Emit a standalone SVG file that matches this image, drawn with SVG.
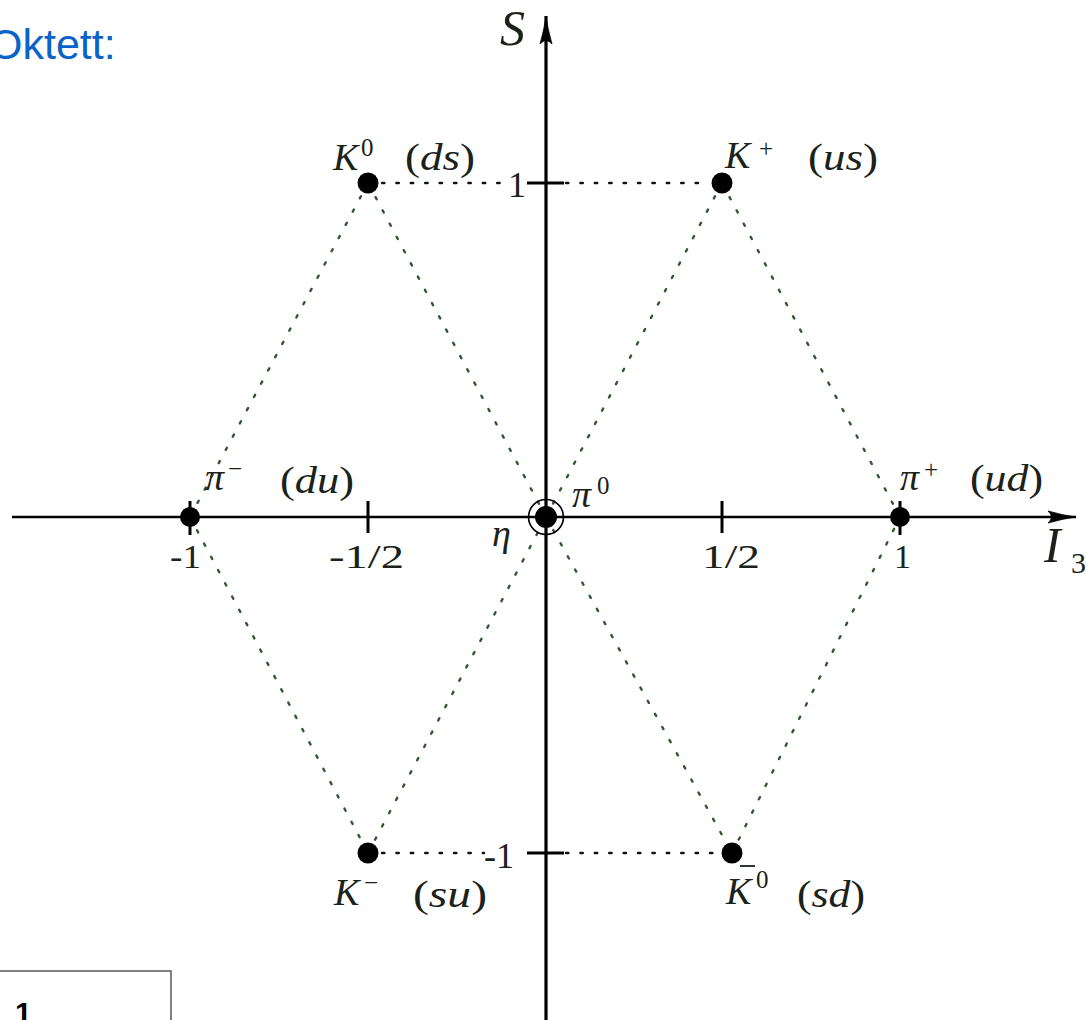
<svg xmlns="http://www.w3.org/2000/svg" width="1086" height="1020" viewBox="0 0 1086 1020">
<style>
.m{font-family:"Liberation Serif","DejaVu Serif",serif;font-style:italic;fill:#1a221a}
.u{font-family:"Liberation Serif","DejaVu Serif",serif;font-style:normal;fill:#1a221a}
.lbl{font-size:38px}
.sup{font-size:25px}
.num{font-size:34px}
.dot{fill:#000}
.g{stroke:#2f5a2f;stroke-width:2.4;stroke-dasharray:2.4 12.6;stroke-linecap:round;fill:none}
.k{stroke:#111;stroke-width:2.4;stroke-dasharray:2.4 12;stroke-linecap:round;fill:none}
.ax{stroke:#000;fill:none}
.tick{stroke:#000;stroke-width:3}
</style>
<defs>
<marker id="arr" markerUnits="userSpaceOnUse" markerWidth="32" markerHeight="16" refX="28" refY="8" orient="auto" viewBox="0 0 32 16">
<path d="M0,2 Q16,6.5 28,8 Q16,9.5 0,14 Q7,8 0,2 Z" fill="#000" stroke="#000" stroke-width="0.8"/>
</marker>
</defs>
<rect width="1086" height="1020" fill="#fff"/>
<text x="-11" y="59" font-family="Liberation Sans,Arial,sans-serif" font-size="43" fill="#0a64c8">Oktett:</text>

<g id="connectors">
<line class="g" x1="368" y1="183" x2="190" y2="517"/>
<line class="g" x1="190" y1="517" x2="368" y2="853"/>
<line class="g" x1="368" y1="853" x2="546" y2="517"/>
<line class="g" x1="546" y1="517" x2="368" y2="183"/>
<line class="g" x1="722" y1="183" x2="546" y2="517"/>
<line class="g" x1="546" y1="517" x2="732" y2="853"/>
<line class="g" x1="732" y1="853" x2="900" y2="517"/>
<line class="g" x1="900" y1="517" x2="722" y2="183"/>
<line class="k" x1="382" y1="183" x2="506" y2="183"/>
<line class="k" x1="566" y1="183" x2="710" y2="183"/>
<line class="k" x1="382" y1="853" x2="484" y2="853"/>
<line class="k" x1="566" y1="853" x2="720" y2="853"/>
</g>

<g id="axes">
<line class="ax" x1="12" y1="517" x2="1076" y2="517" stroke-width="2.6" marker-end="url(#arr)"/>
<line class="ax" x1="546" y1="1020" x2="546" y2="16" stroke-width="3.2" marker-end="url(#arr)"/>
<line class="tick" x1="190" y1="501" x2="190" y2="535"/>
<line class="tick" x1="368" y1="501" x2="368" y2="533"/>
<line class="tick" x1="722" y1="501" x2="722" y2="533"/>
<line class="tick" x1="900" y1="501" x2="900" y2="535"/>
<line class="tick" x1="527" y1="183" x2="564" y2="183"/>
<line class="tick" x1="527" y1="853" x2="564" y2="853"/>
<text class="m" x="500" y="45" font-size="50">S</text>
<text class="m" x="1044" y="562" font-size="50">I</text>
<text class="u" x="1071" y="573" font-size="30">3</text>
<text class="u num" x="170" y="568" textLength="31" lengthAdjust="spacingAndGlyphs">-1</text>
<text class="u num" x="329" y="568" textLength="75" lengthAdjust="spacingAndGlyphs">-1/2</text>
<text class="u num" x="702" y="568" textLength="58" lengthAdjust="spacingAndGlyphs">1/2</text>
<text class="u num" x="894" y="568">1</text>
<text class="u" x="508" y="197" font-size="36">1</text>
<text class="u" x="484" y="868" font-size="36">-1</text>
</g>

<g id="K0">
<circle class="dot" cx="368" cy="183" r="10.5"/>
<text class="m lbl" x="333" y="170">K</text>
<text class="u sup" x="361" y="156">0</text>
<text class="u lbl" x="405" y="170" textLength="70" lengthAdjust="spacingAndGlyphs">(<tspan class="m">ds</tspan>)</text>
</g>
<g id="Kplus">
<circle class="dot" cx="722" cy="183" r="10.5"/>
<text class="m lbl" x="725" y="168">K</text>
<text class="u sup" x="759" y="157">+</text>
<text class="u lbl" x="808" y="170" textLength="70" lengthAdjust="spacingAndGlyphs">(<tspan class="m">us</tspan>)</text>
</g>
<g id="piminus">
<circle class="dot" cx="190" cy="517" r="10"/>
<text class="m lbl" x="205" y="490">π</text>
<text class="u sup" x="228" y="477">−</text>
<text class="u lbl" x="280" y="493" textLength="74" lengthAdjust="spacingAndGlyphs">(<tspan class="m">du</tspan>)</text>
</g>
<g id="pi0eta">
<circle cx="546" cy="517" r="17.5" fill="none" stroke="#000" stroke-width="1.6"/>
<circle class="dot" cx="546" cy="517" r="11"/>
<text class="m lbl" x="572" y="507">π</text>
<text class="u sup" x="597" y="494">0</text>
<text class="m lbl" x="492" y="546">η</text>
</g>
<g id="piplus">
<circle class="dot" cx="900" cy="517" r="10"/>
<text class="m lbl" x="900" y="490">π</text>
<text class="u sup" x="924" y="478">+</text>
<text class="u lbl" x="970" y="491" textLength="73" lengthAdjust="spacingAndGlyphs">(<tspan class="m">ud</tspan>)</text>
</g>
<g id="Kminus">
<circle class="dot" cx="368" cy="853" r="10.5"/>
<text class="m lbl" x="334" y="905">K</text>
<text class="u sup" x="364" y="891">−</text>
<text class="u lbl" x="413" y="907" textLength="74" lengthAdjust="spacingAndGlyphs">(<tspan class="m">su</tspan>)</text>
</g>
<g id="K0bar">
<circle class="dot" cx="732" cy="853" r="10.5"/>
<text class="m lbl" x="726" y="904">K</text>
<line x1="740" y1="866" x2="755" y2="866" stroke="#1a221a" stroke-width="1.8"/>
<text class="u sup" x="756" y="888">0</text>
<text class="u lbl" x="797" y="907" textLength="68" lengthAdjust="spacingAndGlyphs">(<tspan class="m">sd</tspan>)</text>
</g>

<g id="box">
<rect x="-1" y="971" width="172" height="60" fill="none" stroke="#555" stroke-width="1.5"/>
<text x="15" y="1023" font-family="Liberation Sans,Arial,sans-serif" font-weight="bold" font-size="30" fill="#000">1</text>
</g>
</svg>
